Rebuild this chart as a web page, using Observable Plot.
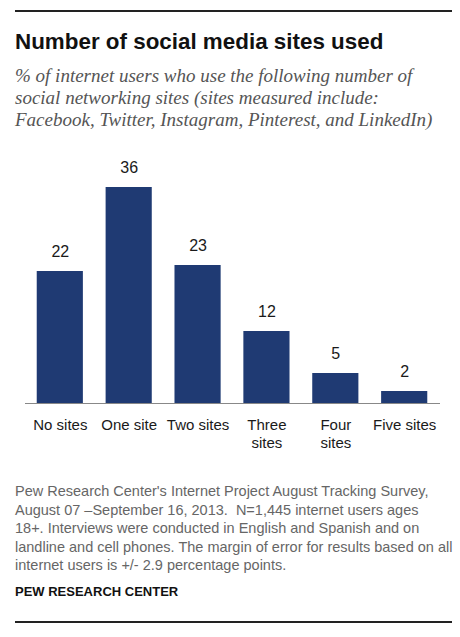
<!DOCTYPE html>
<html>
<head>
<meta charset="utf-8">
<script src="https://cdn.jsdelivr.net/npm/d3@7"></script>
<script src="https://cdn.jsdelivr.net/npm/@observablehq/plot@0.6"></script>
<style>
  body { margin: 0; background: #fff; width: 460px; height: 637px; position: relative; overflow: hidden; }
  .rule { position: absolute; left: 15px; width: 437px; height: 0; border-top: 2px solid #222; }
  #title { position: absolute; left: 15px; top: 29px; font-family: "Liberation Sans", Arial, sans-serif; font-weight: bold; font-size: 22.4px; color: #111; white-space: nowrap; }
  #subtitle { position: absolute; left: 15px; top: 65px; font-family: "Liberation Serif", serif; font-style: italic; font-size: 19px; line-height: 22px; color: #555; white-space: nowrap; }
  #chart { position: absolute; left: 0; top: 145px; }
  #note { position: absolute; left: 15px; top: 482px; font-family: "Liberation Sans", Arial, sans-serif; font-size: 14.5px; line-height: 18.5px; color: #666; white-space: nowrap; }
  #source { position: absolute; left: 15px; top: 584px; font-family: "Liberation Sans", Arial, sans-serif; font-weight: bold; font-size: 13px; color: #111; }
</style>
</head>
<body>
<div class="rule" style="top:10px"></div>
<div id="title">Number of social media sites used</div>
<div id="subtitle">% of internet users who use the following number of<br>social networking sites (sites measured include:<br>Facebook, Twitter, Instagram, Pinterest, and LinkedIn)</div>
<div id="chart"></div>
<div id="note">Pew Research Center's Internet Project August Tracking Survey,<br>August 07 &ndash;September 16, 2013.&nbsp; N=1,445 internet users ages<br>18+. Interviews were conducted in English and Spanish and on<br>landline and cell phones. The margin of error for results based on all<br>internet users is +/- 2.9 percentage points.</div>
<div id="source">PEW RESEARCH CENTER</div>
<div class="rule" style="top:621px"></div>
<script>
const categories = ['No sites', 'One site', 'Two sites', 'Three sites', 'Four sites', 'Five sites'];
const tickLabels = ['No sites', 'One site', 'Two sites', 'Three\nsites', 'Four\nsites', 'Five sites'];
const shares = [22, 36, 23, 12, 5, 2];

const data = categories.map((c, i) => ({cat: c, value: shares[i]}));
const labelOf = new Map(categories.map((c, i) => [c, tickLabels[i]]));

const chart = Plot.plot({
  width: 460,
  height: 313,
  marginTop: 42,
  marginBottom: 55,
  marginLeft: 14,
  marginRight: 10,
  style: {fontFamily: 'Liberation Sans, Arial, sans-serif', color: '#222', background: 'transparent'},
  x: {domain: categories, padding: 0.33, round: false},
  y: {domain: [0, 36], axis: null},
  marks: [
    Plot.barY(data, {x: 'cat', y: 'value', fill: '#1f3a73'}),
    Plot.ruleY([0], {stroke: '#888', strokeWidth: 1, insetLeft: 11, insetRight: 10}),
    Plot.text(data, {
      x: 'cat', y: 'value', text: d => String(d.value),
      lineAnchor: 'bottom', dy: -14.5, fontSize: 16, fill: '#1a1a1a'
    }),
    Plot.axisX({
      tickSize: 0, tickPadding: 14, fontSize: 15, lineHeight: 1.2,
      tickFormat: d => labelOf.get(d), label: null, fill: '#1a1a1a'
    })
  ]
});
document.getElementById('chart').append(chart);
</script>
</body>
</html>
